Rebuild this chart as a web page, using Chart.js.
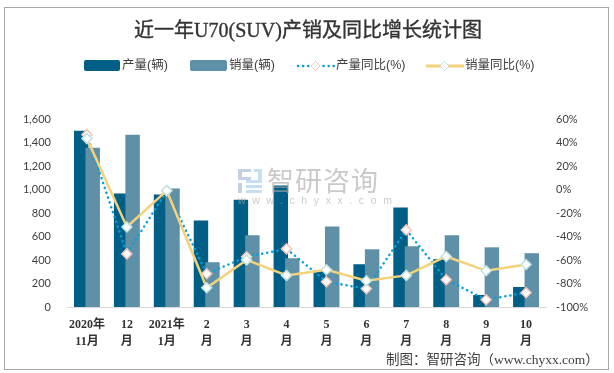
<!DOCTYPE html>
<html>
<head>
<meta charset="utf-8">
<script src="https://cdn.jsdelivr.net/npm/chart.js@4/dist/chart.umd.min.js"></script>
<style>
  html, body { margin: 0; padding: 0; background: #fff; }
  #wrap { position: relative; width: 614px; height: 373px; overflow: hidden; font-family: "Noto Sans CJK SC", sans-serif; }
  #chart { position: absolute; left: 0; top: 0; }
  #frame { position: absolute; left: 4px; top: 7px; width: 603px; height: 361px; border: 1px solid #a6a6a6; }
  #title { position: absolute; left: 1px; width: 614px; top: 16px; text-align: center; font: normal 20px/28px "Liberation Serif", "Noto Sans CJK SC", serif; -webkit-text-stroke: 0.35px #333; color: #333; }
  .leg { position: absolute; top: 56px; font-size: 12.5px; line-height: 18px; color: #404040; white-space: nowrap; font-family: "Liberation Sans", "Noto Sans CJK SC", sans-serif; }
  .swatch { position: absolute; top: 60px; }
  #source { position: absolute; left: 386px; top: 350px; font: 13.5px/20px "Liberation Serif", "Noto Sans CJK SC", serif; color: #404040; white-space: nowrap; }
  #wm { position: absolute; left: 267px; top: 164px; font-size: 27px; line-height: 32px; letter-spacing: 1px; color: rgba(170,170,170,.62); white-space: nowrap; }
  #wmUrl { position: absolute; left: 238px; top: 193px; font: 10.5px/14px "Liberation Sans", sans-serif; letter-spacing: 6.6px; color: rgba(170,170,170,.62); white-space: nowrap; }
  #wmLogo { position: absolute; left: 237px; top: 167px; }
</style>
</head>
<body>
<div id="wrap">
  <canvas id="chart" width="614" height="373"></canvas>
  <div id="frame"></div>
  <div id="title">近一年U70(SUV)产销及同比增长统计图</div>
  <svg class="swatch" style="left:84px" width="36" height="11"><rect width="36" height="11" rx="2" fill="#005f87"/></svg>
  <div class="leg" id="leg0" style="left:122px"></div>
  <svg class="swatch" style="left:190px" width="37" height="11"><rect width="37" height="11" rx="2" fill="#5e90a8"/></svg>
  <div class="leg" id="leg1" style="left:229px"></div>
  <svg class="swatch" style="left:296px;top:58px" width="40" height="16">
    <line x1="2" y1="8" x2="38" y2="8" stroke="#00a0dc" stroke-width="2.5" stroke-linecap="round" stroke-dasharray="0.1 5"/>
    <path d="M19.5 3.5 L24 8 L19.5 12.5 L15 8 Z" fill="#fff" stroke="#f4c6bb"/>
  </svg>
  <div class="leg" id="leg2" style="left:336px"></div>
  <svg class="swatch" style="left:426px;top:58px" width="38" height="16">
    <line x1="0" y1="8" x2="38" y2="8" stroke="#f5d27a" stroke-width="3"/>
    <path d="M18.5 3.5 L23 8 L18.5 12.5 L14 8 Z" fill="#fff" stroke="#bfe3e0"/>
  </svg>
  <div class="leg" id="leg3" style="left:465px"></div>
  <svg id="wmLogo" width="26" height="28">
    <path d="M1 2h13v3H5v5h9v3H1zM1 16h4v10H1z" fill="rgba(150,170,205,.55)"/>
    <path d="M17 2h8v14H9v-3h12V5h-4zM9 18h16v3H9zM9 23h16v3H9z" fill="rgba(150,195,230,.55)"/>
  </svg>
  <div id="wm">智研咨询</div>
  <div id="wmUrl">www.chyxx.com</div>
  <div id="source">制图&#xFF1A;智研咨询&#xFF08;www.chyxx.com&#xFF09;</div>
</div>
<script>
const categories = [
  ['2020年', '11月'], ['12', '月'], ['2021年', '1月'], ['2', '月'], ['3', '月'], ['4', '月'],
  ['5', '月'], ['6', '月'], ['7', '月'], ['8', '月'], ['9', '月'], ['10', '月']
];
const seriesNames = ['产量(辆)', '销量(辆)', '产量同比(%)', '销量同比(%)'];
const output = [1500, 966, 958, 737, 912, 1034, 313, 364, 847, 407, 102, 170];
const sales = [1356, 1466, 1008, 381, 610, 415, 686, 491, 517, 610, 508, 458];
const outputYoy = [46.7, -54.8, -1, -71.7, -57.3, -50.5, -78.5, -84.5, -34.4, -76.8, -93.8, -87.8];
const salesYoy = [43.3, -31.9, -1, -83.6, -59.9, -73.1, -68.3, -77.7, -73.1, -57, -69.2, -63.8];

seriesNames.forEach((name, i) => {
  document.getElementById('leg' + i).textContent = name;
});

const tickColor = '#404040';
const tickFont = '"Lato", "Noto Sans CJK SC", sans-serif';

// the lighter bar sits to the right but overlaps the dark one, so paint dark first
const barOverlap = {
  id: 'barOverlap',
  beforeDatasetDraw(chart, args) {
    if (args.index === 0) return false;
    if (args.index === 1) chart.getDatasetMeta(0).controller.draw();
  }
};

new Chart(document.getElementById('chart').getContext('2d'), {
  type: 'bar',
  plugins: [barOverlap],
  data: {
    labels: categories,
    datasets: [
      {
        label: seriesNames[0],
        data: output,
        backgroundColor: '#005f87',
        yAxisID: 'y',
        order: 2,
        categoryPercentage: 0.575,
        barPercentage: 1.26
      },
      {
        label: seriesNames[1],
        data: sales,
        backgroundColor: '#5e90a8',
        yAxisID: 'y',
        order: 3,
        categoryPercentage: 0.575,
        barPercentage: 1.26
      },
      {
        type: 'line',
        label: seriesNames[2],
        data: outputYoy,
        yAxisID: 'y1',
        order: 1,
        borderColor: '#00a0dc',
        borderWidth: 2.5,
        borderDash: [0.1, 5],
        borderCapStyle: 'round',
        pointStyle: 'rectRot',
        pointRadius: 5,
        pointBackgroundColor: '#fff',
        pointBorderColor: '#f4c6bb',
        pointBorderWidth: 1.5
      },
      {
        type: 'line',
        label: seriesNames[3],
        data: salesYoy,
        yAxisID: 'y1',
        order: 0,
        borderColor: '#f5d27a',
        borderWidth: 2.5,
        pointStyle: 'rectRot',
        pointRadius: 5,
        pointBackgroundColor: '#fff',
        pointBorderColor: '#bfe3e0',
        pointBorderWidth: 1.5
      }
    ]
  },
  options: {
    responsive: false,
    animation: false,
    layout: { padding: { top: 119 } },
    plugins: { legend: { display: false }, title: { display: false }, tooltip: { enabled: false } },
    scales: {
      x: {
        grid: { display: false },
        border: { color: '#d9d9d9', width: 1 },
        afterFit: (s) => { s.height = 66; },
        ticks: {
          color: '#333',
          maxRotation: 0,
          autoSkip: false,
          padding: 2,
          font: { size: 12, weight: 'bold', family: '"Liberation Serif", "Noto Sans CJK SC", serif', lineHeight: 1.4 }
        }
      },
      y: {
        position: 'left',
        min: 0,
        max: 1600,
        grid: { display: false, drawTicks: false },
        border: { display: false },
        afterFit: (s) => { s.width = 67; },
        ticks: {
          stepSize: 200,
          color: tickColor,
          padding: 16,
          font: { size: 11, family: tickFont },
          callback: (v) => v.toLocaleString('en-US')
        }
      },
      y1: {
        position: 'right',
        min: -100,
        max: 60,
        grid: { display: false, drawTicks: false },
        border: { display: false },
        afterFit: (s) => { s.width = 68; },
        ticks: {
          stepSize: 20,
          color: tickColor,
          padding: 10,
          font: { size: 11, family: tickFont },
          callback: (v) => v + '%'
        }
      }
    }
  }
});
</script>
</body>
</html>
